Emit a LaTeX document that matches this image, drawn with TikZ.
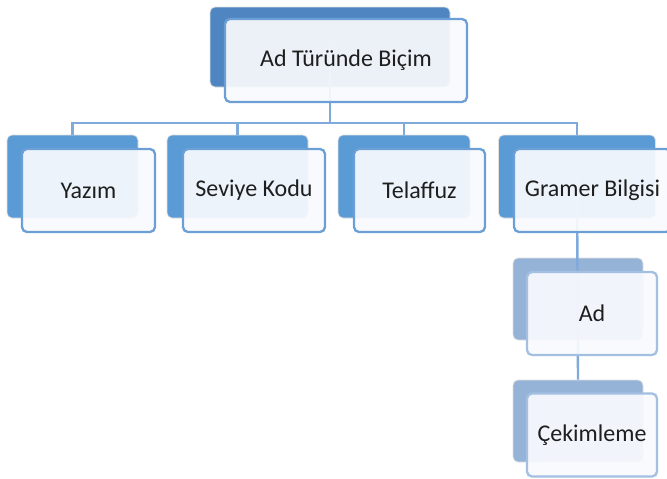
\documentclass[tikz,border=0pt]{standalone}
\usepackage{fontspec}
\setmainfont{Carlito}
\definecolor{topback}{HTML}{4F86C2}
\definecolor{midback}{HTML}{5B9BD5}
\definecolor{lowback}{HTML}{95B3D7}
\definecolor{frontline}{HTML}{6C9FD5}
\definecolor{lowline}{HTML}{A3BFE2}
\definecolor{frontfill}{HTML}{F8FAFD}
\definecolor{conn}{HTML}{80AADA}
\definecolor{txt}{HTML}{1E1E1E}
\tikzset{
  backbox/.style={rectangle, rounded corners=5pt, draw=black!12, line width=0.8pt, inner sep=0pt},
  frontbox/.style={rectangle, rounded corners=5pt, draw=frontline, line width=2.3pt, fill=frontfill, fill opacity=0.93, text opacity=1, text=txt, inner sep=0pt, font=\fontsize{24}{28}\selectfont},
  connector/.style={draw=conn, line width=2.4pt},
}
\begin{document}
\begin{tikzpicture}[x=1pt,y=-1pt]
\useasboundingbox (0,0) rectangle (667,479);
% back boxes
\node[backbox, fill=topback, minimum width=240pt, minimum height=80pt] (tb) at (330,47) {};
\node[backbox, fill=midback, minimum width=131pt, minimum height=83pt] (b1) at (72.5,176.5) {};
\node[backbox, fill=midback, minimum width=141pt, minimum height=83pt] (b2) at (237.5,176.5) {};
\node[backbox, fill=midback, minimum width=132pt, minimum height=83pt] (b3) at (404,176.5) {};
\node[backbox, fill=midback, minimum width=157pt, minimum height=83pt] (b4) at (577,176.5) {};
\node[backbox, fill=lowback, minimum width=130pt, minimum height=82pt] (b5) at (578,299) {};
\node[backbox, fill=lowback, minimum width=130pt, minimum height=82pt] (b6) at (578,421) {};
% connectors
\coordinate (bus) at (0,123);
\draw[connector] (tb.center) -- (tb.center |- bus);
\draw[connector] (b1.north) -- (b1.north |- bus) -- (b4.north |- bus) -- (b4.north);
\draw[connector] (b2.north |- bus) -- (b2.north);
\draw[connector] (b3.north |- bus) -- (b3.north);
\draw[connector] (b4.center) -- (b6.north);
% front boxes
\node[frontbox, minimum width=242pt, minimum height=83pt] (ft) at (346,60.5) {Ad Türünde Biçim};
\node[frontbox, minimum width=133pt, minimum height=83pt] (f1) at (88.5,190.5) {Yazım};
\node[frontbox, minimum width=142pt, minimum height=83pt] (f2) at (254,190.5) {Seviye Kodu};
\node[frontbox, minimum width=131pt, minimum height=83pt] (f3) at (419.5,190.5) {Telaffuz};
\node[frontbox, minimum width=157pt, minimum height=83pt] (f4) at (592.5,190.5) {Gramer Bilgisi};
\node[frontbox, draw=lowline, minimum width=130pt, minimum height=83pt] (f5) at (592,313.5) {Ad};
\node[frontbox, draw=lowline, minimum width=130pt, minimum height=83pt] (f6) at (592,435) {Çekimleme};
\end{tikzpicture}
\end{document}
